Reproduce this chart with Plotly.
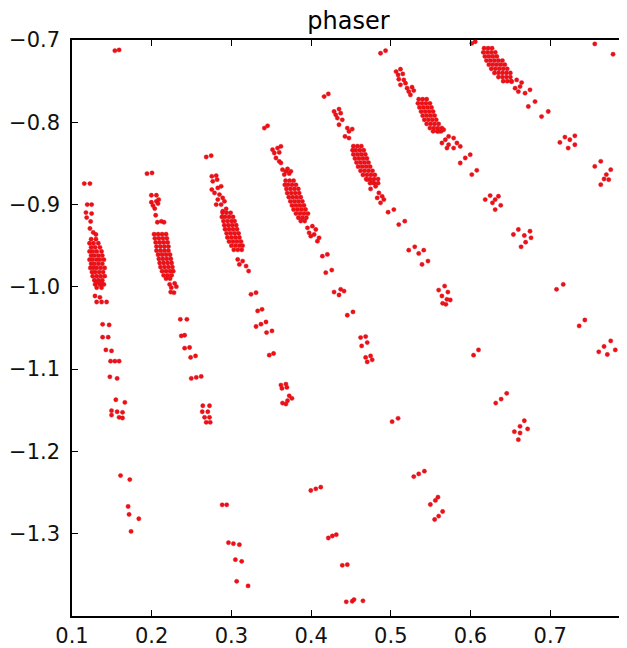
import plotly.graph_objects as go

# ---------------- data ----------------
title_text = "phaser"
x_tick_vals = [0.1, 0.2, 0.3, 0.4, 0.5, 0.6, 0.7]
x_tick_text = ["0.1", "0.2", "0.3", "0.4", "0.5", "0.6", "0.7"]
y_tick_vals = [-0.7, -0.8, -0.9, -1.0, -1.1, -1.2, -1.3]
y_tick_text = ["\u22120.7", "\u22120.8", "\u22120.9", "\u22121.0", "\u22121.1", "\u22121.2", "\u22121.3"]

# dense clusters: rows of (y, [x values])
core1 = [(-0.942, [0.124, 0.130]), (-0.947, [0.122, 0.127, 0.133]), (-0.952, [0.124, 0.129, 0.135]),
         (-0.957, [0.122, 0.126, 0.131, 0.137]), (-0.962, [0.124, 0.128, 0.133, 0.138]),
         (-0.967, [0.122, 0.126, 0.131, 0.135, 0.140]), (-0.972, [0.124, 0.128, 0.133, 0.138]),
         (-0.977, [0.123, 0.127, 0.131, 0.136, 0.141]), (-0.982, [0.125, 0.129, 0.134, 0.139]),
         (-0.987, [0.126, 0.131, 0.136, 0.141]), (-0.992, [0.128, 0.133, 0.138]),
         (-0.997, [0.129, 0.135, 0.140]), (-1.001, [0.131, 0.137])]
core2 = [(-0.936, [0.203, 0.208, 0.213, 0.218]), (-0.941, [0.204, 0.209, 0.214, 0.219]),
         (-0.946, [0.205, 0.210, 0.215, 0.220]), (-0.951, [0.206, 0.211, 0.216, 0.221]),
         (-0.956, [0.206, 0.211, 0.216, 0.221]), (-0.961, [0.208, 0.213, 0.218, 0.223]),
         (-0.966, [0.209, 0.214, 0.219, 0.224]), (-0.971, [0.210, 0.215, 0.220, 0.225]),
         (-0.976, [0.211, 0.216, 0.221, 0.226]), (-0.981, [0.213, 0.218, 0.223, 0.227]),
         (-0.986, [0.215, 0.220, 0.225]), (-0.990, [0.218, 0.223])]
core3 = [(-0.910, [0.289, 0.294, 0.299]), (-0.915, [0.288, 0.292, 0.297, 0.302]),
         (-0.920, [0.290, 0.295, 0.300, 0.304]), (-0.925, [0.291, 0.296, 0.301, 0.306]),
         (-0.930, [0.292, 0.297, 0.302, 0.307]), (-0.935, [0.294, 0.299, 0.304, 0.309]),
         (-0.940, [0.295, 0.300, 0.305, 0.310]), (-0.945, [0.297, 0.302, 0.307, 0.312]),
         (-0.950, [0.300, 0.305, 0.310, 0.314]), (-0.955, [0.303, 0.308, 0.313])]
core4 = [(-0.871, [0.368, 0.373, 0.378]), (-0.876, [0.367, 0.371, 0.376, 0.381]),
         (-0.881, [0.369, 0.374, 0.379, 0.384]), (-0.886, [0.370, 0.375, 0.380, 0.385]),
         (-0.891, [0.372, 0.377, 0.382, 0.387]), (-0.896, [0.374, 0.379, 0.384, 0.389]),
         (-0.901, [0.376, 0.381, 0.386, 0.391]), (-0.906, [0.378, 0.383, 0.388, 0.393]),
         (-0.911, [0.381, 0.386, 0.391, 0.396]), (-0.916, [0.384, 0.389, 0.394]),
         (-0.920, [0.387, 0.392])]
core5 = [(-0.829, [0.453, 0.458, 0.463]), (-0.834, [0.452, 0.456, 0.461, 0.466]),
         (-0.839, [0.453, 0.458, 0.463, 0.468]), (-0.844, [0.455, 0.460, 0.465, 0.470]),
         (-0.849, [0.457, 0.462, 0.467, 0.472]), (-0.854, [0.459, 0.464, 0.469, 0.474]),
         (-0.859, [0.462, 0.467, 0.472, 0.477]), (-0.864, [0.465, 0.470, 0.475, 0.480]),
         (-0.869, [0.469, 0.474, 0.479, 0.484]), (-0.874, [0.474, 0.479, 0.484])]
core6 = [(-0.772, [0.535, 0.540, 0.545]), (-0.777, [0.534, 0.539, 0.544, 0.549]),
         (-0.782, [0.536, 0.541, 0.546, 0.551]), (-0.787, [0.538, 0.543, 0.548, 0.553]),
         (-0.792, [0.540, 0.545, 0.550, 0.555]), (-0.797, [0.542, 0.547, 0.552, 0.557]),
         (-0.802, [0.545, 0.550, 0.555, 0.560]), (-0.807, [0.549, 0.554, 0.559, 0.564]),
         (-0.811, [0.553, 0.558, 0.563])]
core7 = [(-0.710, [0.617, 0.622, 0.627]), (-0.715, [0.616, 0.621, 0.626, 0.631]),
         (-0.720, [0.618, 0.623, 0.628, 0.633]), (-0.725, [0.620, 0.625, 0.630, 0.635, 0.640]),
         (-0.730, [0.623, 0.628, 0.633, 0.638, 0.643]), (-0.735, [0.626, 0.631, 0.636, 0.641, 0.646]),
         (-0.740, [0.630, 0.635, 0.640, 0.645, 0.650]), (-0.745, [0.635, 0.640, 0.645, 0.650]),
         (-0.750, [0.641, 0.646, 0.651])]

# sparse trails: (x, y)
trail1 = [(0.1154, -0.8745), (0.1225, -0.8745), (0.1538, -0.7130), (0.1591, -0.7121),
          (0.1191, -0.9000), (0.1246, -0.9000), (0.1175, -0.9097), (0.1246, -0.9109),
          (0.1184, -0.9158), (0.1234, -0.9206), (0.1225, -0.9291), (0.1266, -0.9339), (0.1300, -0.9364),
          (0.1309, -0.9951), (0.1371, -0.9951), (0.1288, -1.0111), (0.1350, -1.0127),
          (0.1309, -1.0184), (0.1371, -1.0184), (0.1434, -1.0184),
          (0.1384, -1.0455), (0.1466, -1.0463), (0.1384, -1.0612), (0.1454, -1.0612),
          (0.1425, -1.0766), (0.1496, -1.0778), (0.1484, -1.0903), (0.1538, -1.0903), (0.1591, -1.0903),
          (0.1475, -1.1093), (0.1566, -1.1113), (0.1550, -1.1372), (0.1663, -1.1404),
          (0.1496, -1.1505), (0.1566, -1.1518), (0.1634, -1.1525), (0.1496, -1.1558),
          (0.1591, -1.1586), (0.1634, -1.1594),
          (0.1609, -1.2293), (0.1725, -1.2342), (0.1704, -1.2669), (0.1716, -1.2766),
          (0.1838, -1.2818), (0.1741, -1.2972)]
trail2 = [(0.1941, -0.8624), (0.2004, -0.8616), (0.1996, -0.8887), (0.2059, -0.8887),
          (0.1996, -0.8972), (0.2059, -0.8960), (0.2088, -0.8940), (0.2016, -0.9012),
          (0.2079, -0.8988), (0.2038, -0.9049), (0.2050, -0.9130), (0.2071, -0.9215),
          (0.2121, -0.9203), (0.2154, -0.9215),
          (0.2225, -0.9970), (0.2288, -0.9958), (0.2246, -1.0010), (0.2309, -0.9998),
          (0.2238, -1.0063), (0.2279, -1.0071),
          (0.2359, -1.0394), (0.2441, -1.0394), (0.2371, -1.0596), (0.2413, -1.0588),
          (0.2413, -1.0745), (0.2475, -1.0737), (0.2488, -1.0858), (0.2550, -1.0839),
          (0.2496, -1.1113), (0.2559, -1.1101), (0.2621, -1.1089),
          (0.2641, -1.1445), (0.2725, -1.1445), (0.2634, -1.1518), (0.2704, -1.1518),
          (0.2663, -1.1586), (0.2725, -1.1586), (0.2684, -1.1646), (0.2734, -1.1646),
          (0.2884, -1.2649), (0.2941, -1.2649), (0.2963, -1.3109), (0.3025, -1.3121),
          (0.3100, -1.3133), (0.3050, -1.3315), (0.3129, -1.3336), (0.3066, -1.3578), (0.3209, -1.3634)]
trail3 = [(0.2684, -0.8422), (0.2746, -0.8406),
          (0.2754, -0.8657), (0.2809, -0.8649), (0.2766, -0.8718), (0.2821, -0.8697),
          (0.2754, -0.8818), (0.2829, -0.8798), (0.2871, -0.8778), (0.2788, -0.8858),
          (0.2850, -0.8879), (0.2891, -0.8919), (0.2829, -0.8939), (0.2913, -0.8960),
          (0.2809, -0.9000), (0.2871, -0.9000), (0.2934, -0.9052), (0.2891, -0.9081),
          (0.3079, -0.9667), (0.3141, -0.9687), (0.3100, -0.9727), (0.3184, -0.9748), (0.3216, -0.9808),
          (0.3246, -1.0091), (0.3309, -1.0071), (0.3329, -1.0293), (0.3384, -1.0273),
          (0.3309, -1.0482), (0.3371, -1.0454), (0.3434, -1.0427), (0.3441, -1.0555), (0.3509, -1.0536),
          (0.3475, -1.0830), (0.3529, -1.0810),
          (0.3621, -1.1194), (0.3684, -1.1182), (0.3634, -1.1234), (0.3696, -1.1222),
          (0.3641, -1.1412), (0.3704, -1.1384), (0.3759, -1.1355), (0.3725, -1.1324), (0.3684, -1.1424),
          (0.3996, -1.2475), (0.4059, -1.2455), (0.4121, -1.2434),
          (0.4216, -1.3052), (0.4266, -1.3028), (0.4316, -1.3012),
          (0.4391, -1.3384), (0.4454, -1.3376),
          (0.4441, -1.3828), (0.4516, -1.3821), (0.4538, -1.3800), (0.4650, -1.3816)]
trail4 = [(0.3413, -0.8070), (0.3454, -0.8043),
          (0.3516, -0.8333), (0.3579, -0.8313), (0.3621, -0.8293), (0.3538, -0.8373),
          (0.3600, -0.8366), (0.3559, -0.8434), (0.3600, -0.8475), (0.3621, -0.8494),
          (0.3641, -0.8576), (0.3684, -0.8596), (0.3704, -0.8567), (0.3746, -0.8596),
          (0.3663, -0.8636), (0.3725, -0.8624),
          (0.3954, -0.9283), (0.4016, -0.9263), (0.4059, -0.9303), (0.3975, -0.9343),
          (0.4038, -0.9364), (0.4100, -0.9404), (0.3996, -0.9384), (0.4079, -0.9445),
          (0.4141, -0.9627), (0.4204, -0.9606),
          (0.4184, -0.9828), (0.4259, -0.9796), (0.4288, -1.0063), (0.4371, -1.0030),
          (0.4413, -1.0051), (0.4350, -1.0099), (0.4454, -1.0345), (0.4525, -1.0305),
          (0.4621, -1.0616), (0.4684, -1.0604), (0.4634, -1.0718), (0.4704, -1.0677),
          (0.4684, -1.0858), (0.4746, -1.0839), (0.4704, -1.0912), (0.4766, -1.0887),
          (0.5016, -1.1639), (0.5091, -1.1598),
          (0.5288, -1.2306), (0.5350, -1.2273), (0.5421, -1.2240),
          (0.5496, -1.2645), (0.5559, -1.2596), (0.5591, -1.2556),
          (0.5550, -1.2827), (0.5600, -1.2786), (0.5650, -1.2730)]
trail5 = [(0.4163, -0.7687), (0.4216, -0.7655),
          (0.4288, -0.7869), (0.4350, -0.7840), (0.4309, -0.7909), (0.4371, -0.7889),
          (0.4329, -0.7949), (0.4391, -0.7970), (0.4350, -0.8030), (0.4454, -0.8070),
          (0.4516, -0.8083), (0.4475, -0.8111), (0.4425, -0.8172), (0.4475, -0.8192),
          (0.4704, -0.8697), (0.4766, -0.8730), (0.4809, -0.8778), (0.4746, -0.8810),
          (0.4850, -0.8858), (0.4891, -0.8900), (0.4829, -0.8919), (0.4913, -0.8939),
          (0.4871, -0.8979), (0.4966, -0.9093), (0.5038, -0.9061), (0.5100, -0.9243), (0.5175, -0.9202),
          (0.5225, -0.9554), (0.5300, -0.9513), (0.5350, -0.9594), (0.5413, -0.9554),
          (0.5391, -0.9727), (0.5466, -0.9687),
          (0.5600, -1.0039), (0.5675, -0.9990), (0.5716, -1.0063), (0.5641, -1.0111),
          (0.5704, -1.0151), (0.5746, -1.0160), (0.5650, -1.0200), (0.5691, -1.0212),
          (0.6038, -1.0830), (0.6100, -1.0766),
          (0.6316, -1.1412), (0.6384, -1.1364), (0.6454, -1.1294),
          (0.6550, -1.1760), (0.6621, -1.1776), (0.6600, -1.1857), (0.6675, -1.1627),
          (0.6621, -1.1695), (0.6716, -1.1727)]
trail6 = [(0.4871, -0.7161), (0.4934, -0.7130),
          (0.5066, -0.7384), (0.5121, -0.7355), (0.5091, -0.7424), (0.5150, -0.7412),
          (0.5100, -0.7477), (0.5163, -0.7485), (0.5121, -0.7545), (0.5184, -0.7525),
          (0.5204, -0.7585), (0.5266, -0.7573), (0.5225, -0.7627), (0.5288, -0.7615), (0.5246, -0.7667),
          (0.5600, -0.8111), (0.5663, -0.8091), (0.5725, -0.8172), (0.5788, -0.8192),
          (0.5684, -0.8212), (0.5641, -0.8252), (0.5725, -0.8273), (0.5829, -0.8252),
          (0.5704, -0.8313), (0.5788, -0.8313), (0.5871, -0.8293),
          (0.5871, -0.8495), (0.5934, -0.8434), (0.5996, -0.8394), (0.6016, -0.8636), (0.6079, -0.8584),
          (0.6184, -0.8939), (0.6246, -0.8891), (0.6309, -0.8939), (0.6350, -0.8899),
          (0.6275, -0.8979), (0.6379, -0.9009), (0.6309, -0.9061),
          (0.6538, -0.9364), (0.6600, -0.9303), (0.6675, -0.9376), (0.6746, -0.9324),
          (0.6691, -0.9457), (0.6759, -0.9404), (0.6634, -0.9513),
          (0.7079, -1.0030), (0.7163, -0.9970), (0.7363, -1.0475), (0.7434, -1.0403),
          (0.7609, -1.0790), (0.7675, -1.0725), (0.7759, -1.0657), (0.7716, -1.0822), (0.7816, -1.0766)]
trail7 = [(0.6016, -0.7040), (0.6059, -0.7021),
          (0.6516, -0.7506), (0.6579, -0.7485), (0.6641, -0.7518), (0.6559, -0.7586),
          (0.6621, -0.7566), (0.6600, -0.7627), (0.6684, -0.7646), (0.6746, -0.7606),
          (0.6809, -0.7748), (0.6725, -0.7808), (0.6891, -0.7930), (0.6975, -0.7869),
          (0.7121, -0.8245), (0.7184, -0.8180), (0.7246, -0.8212), (0.7309, -0.8164),
          (0.7225, -0.8313), (0.7309, -0.8273),
          (0.7559, -0.8536), (0.7634, -0.8475), (0.7704, -0.8636), (0.7759, -0.8576),
          (0.7675, -0.8689), (0.7734, -0.8697), (0.7634, -0.8758),
          (0.7559, -0.7048), (0.7788, -0.7173)]

cores = [core1, core2, core3, core4, core5, core6, core7]
trails = [trail1, trail2, trail3, trail4, trail5, trail6, trail7]

# ---------------- assemble ----------------
xs, ys = [], []
for core in cores:
    for yv, xrow in core:
        for xv in xrow:
            xs.append(xv)
            ys.append(yv)
for trail in trails:
    for xv, yv in trail:
        xs.append(xv)
        ys.append(yv)

fig = go.Figure()
fig.add_trace(go.Scatter(
    x=xs, y=ys, mode="markers",
    marker=dict(size=4.3, color="#f01010", line=dict(width=0.4, color="#d0102a")),
    hoverinfo="skip", showlegend=False,
))

axis_common = dict(
    showgrid=False, zeroline=False, showline=True, linecolor="black", linewidth=1.5,
    mirror="ticks", ticks="inside", ticklen=6, tickwidth=1, tickcolor="black",
    tickfont=dict(family="DejaVu Sans", size=21, color="#111111"),
)
fig.update_xaxes(range=[0.1, 0.7938], tickvals=x_tick_vals, ticktext=x_tick_text, **axis_common)
fig.update_yaxes(range=[-1.4, -0.7], tickvals=y_tick_vals, ticktext=y_tick_text,
                 ticklabelstandoff=6, **axis_common)

# page body has an 8px margin: figure is sized/offset to place the plot area at
# page pixels x 72..627, y 40..618
fig.update_layout(
    width=619, height=640,
    margin=dict(l=64, r=0, t=32, b=30),
    paper_bgcolor="white", plot_bgcolor="white",
    title=dict(text=title_text, x=0.5, xref="paper", xanchor="center",
               y=0.981, yref="container", yanchor="middle",
               font=dict(family="DejaVu Sans", size=24, color="black")),
)

fig.write_html("out.html")
